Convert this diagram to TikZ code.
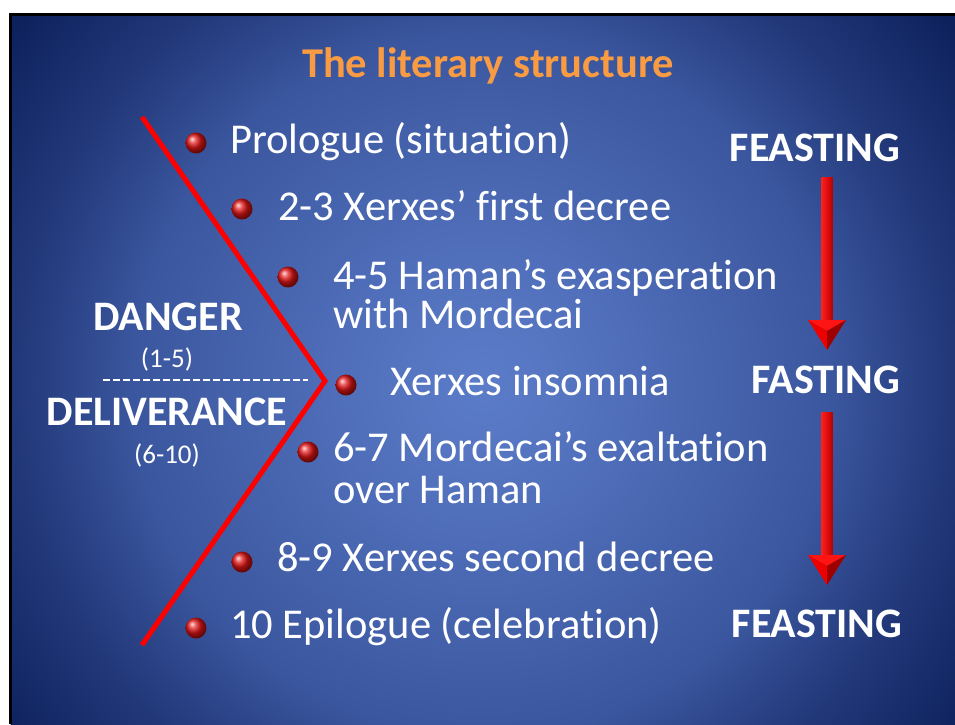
\documentclass[tikz,border=0pt]{standalone}
\usepackage{fontspec}
\setmainfont{Carlito}[RawFeature={-liga}]
\usetikzlibrary{calc}

% slide background colours, from the bright centre out to the dark corners
\definecolor{bgA}{HTML}{5B7CC9}
\definecolor{bgB}{HTML}{5574C0}
\definecolor{bgC}{HTML}{3A569E}
\definecolor{bgD}{HTML}{223879}
\definecolor{bgE}{HTML}{0D215D}
\definecolor{titleorange}{HTML}{F99B42}
\definecolor{bulletred}{rgb}{0.88,0.08,0.08}
\definecolor{shaftlight}{rgb}{1,0.12,0.12}
\definecolor{shaftdark}{rgb}{0.72,0,0}
\definecolor{headlight}{rgb}{0.93,0,0}
\definecolor{headdark}{rgb}{0.62,0,0}
\definecolor{headtop}{rgb}{1,0.08,0.08}

% radial background at its natural size (radii in bp, close to 1pt)
\pgfdeclareradialshading{slidebg}{\pgfpoint{0bp}{0bp}}{%
  color(0bp)=(bgA); color(90bp)=(bgB); color(350bp)=(bgC);
  color(465bp)=(bgD); color(590bp)=(bgE); color(640bp)=(bgE)}

% a bevelled red arrow: #1 is the top of the shaft, #2 the tip
\newcommand{\bevelarrow}[2]{%
  \shade[left color=shaftlight, right color=shaftdark]
    ($(#1)+(-5.5,0)$) rectangle ($(#2)+(5.5,-28)$);
  \fill[headtop]   ($(#2)+(-19,-30)$) -- ($(#2)+(19,-30)$) -- ($(#2)+(0,-19)$) -- cycle;
  \fill[headlight] ($(#2)+(-19,-30)$) -- ($(#2)+(0,-19)$) -- (#2) -- cycle;
  \fill[headdark]  ($(#2)+(19,-30)$)  -- ($(#2)+(0,-19)$) -- (#2) -- cycle;
}

\begin{document}
\begin{tikzpicture}[x=1pt, y=-1pt,
  every node/.style={inner sep=0pt, text=white},
  item/.style={anchor=base west, font=\fontsize{42.5}{50}\selectfont},
  biglabel/.style={anchor=base, font=\bfseries\fontsize{42}{50}\selectfont},
  smalllabel/.style={anchor=base, font=\fontsize{27}{32}\selectfont},
  titletext/.style={anchor=base, text=titleorange, font=\bfseries\fontsize{42.5}{50}\selectfont},
  bullet/.style={circle, minimum size=21pt, ball color=bulletred}]

\useasboundingbox (0,0) rectangle (955,724);
\fill[white] (0,0) rectangle (955,724);

% slide with its gradient background
\begin{scope}
  \clip (10.5,14.5) rectangle (955,724);
  \node (slidebg) at (483,385) {\pgfuseshading{slidebg}};
\end{scope}
\draw[black, line width=3pt] (10.5,724) -- (10.5,14.5) -- (955,14.5);

% title
\node[titletext] (title) at (488,77) {The literary structure};

% chevron dividing danger from deliverance
\coordinate (ctop) at (142,117);
\coordinate (capex) at (325,381);
\coordinate (cbot) at (142,645);
\draw[red, line width=5pt] (ctop) -- (capex) -- (cbot);

% left-hand labels
\node[biglabel] (danger) at (168,330) {DANGER};
\node[smalllabel] (range1) at (167,367) {(1-5)};
\coordinate (dashL) at (103,380);
\coordinate (dashR) at (308,380);
\draw[white, line width=2pt, dash pattern=on 7pt off 3pt] (dashL) -- (dashR);
\node[biglabel] (deliver) at (167,425) {DELIVERANCE};
\node[smalllabel] (range2) at (167,463) {(6-10)};

% bullets
\node[bullet] (b1) at (196,143) {};
\node[bullet] (b2) at (242,209) {};
\node[bullet] (b3) at (288,277) {};
\node[bullet] (b4) at (346,385) {};
\node[bullet] (b5) at (308,452) {};
\node[bullet] (b6) at (242,562) {};
\node[bullet] (b7) at (196,628) {};

% items of the structure
\node[item] (i1)  at (230,153) {Prologue (situation)};
\node[item] (i2)  at (278,220) {2-3 Xerxes’ first decree};
\node[item] (i3)  at (333,289) {4-5 Haman’s exasperation};
\node[item] (i3b) at (333,328) {with Mordecai};
\node[item] (i4)  at (390,395) {Xerxes insomnia};
\node[item] (i5)  at (333,461) {6-7 Mordecai’s exaltation};
\node[item] (i5b) at (333,503) {over Haman};
\node[item] (i6)  at (277,571) {8-9 Xerxes second decree};
\node[item] (i7)  at (230,638) {10 Epilogue (celebration)};

% right-hand column
\node[biglabel] (feast1) at (815,161) {FEASTING};
\node[biglabel] (fast)   at (826,393) {FASTING};
\node[biglabel] (feast2) at (817,637) {FEASTING};

\coordinate (a1top) at (827,177);
\coordinate (a1tip) at (827,350);
\coordinate (a2top) at (827,412);
\coordinate (a2tip) at (827,585);
\bevelarrow{a1top}{a1tip}
\bevelarrow{a2top}{a2tip}

\end{tikzpicture}
\end{document}
